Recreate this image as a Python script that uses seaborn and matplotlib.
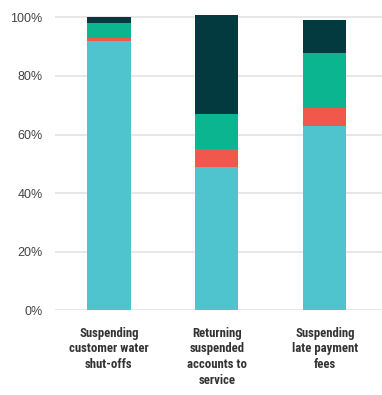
import numpy as np
import pandas as pd
import seaborn as sns
import matplotlib
matplotlib.use("Agg")
import matplotlib.pyplot as plt
from matplotlib import font_manager

categories = ["Suspending\ncustomer water\nshut-offs",
              "Returning\nsuspended\naccounts to\nservice",
              "Suspending\nlate payment\nfees"]
seg1 = [92, 49, 63]   # cyan
seg2 = [1, 6, 6]      # red
seg3 = [5, 12, 19]    # green
seg4 = [2, 34, 11]    # dark teal
colors = ["#4FC4CF", "#F0584C", "#0BB58F", "#033A40"]
yticks = [0, 20, 40, 60, 80, 100]

sns.set_style("white")
plt.rcParams['font.family'] = ['Liberation Sans', 'DejaVu Sans']

# find a condensed font if installed
narrow = None
stretch = "normal"
names = {f.name: f for f in font_manager.fontManager.ttflist}
for cand in ["Liberation Sans Narrow", "Arial Narrow", "Roboto Condensed",
             "Open Sans Condensed"]:
    if cand in names:
        narrow = cand
        break
if narrow is None:
    for f in font_manager.fontManager.ttflist:
        if f.name in ("DejaVu Sans", "Roboto", "Open Sans", "Noto Sans") and \
                str(f.stretch) in ("condensed", "semi-condensed", "75", "87.5"):
            narrow = f.name
            stretch = f.stretch
            break

fig = plt.figure(figsize=(3.82, 3.95), dpi=100)
ax = fig.add_axes([0.144, 0.215, 0.856, 0.763])

segs = [seg1, seg2, seg3, seg4]
cum = np.cumsum(np.array(segs), axis=0)
for i in range(len(segs) - 1, -1, -1):
    df = pd.DataFrame({"cat": categories, "val": cum[i]})
    sns.barplot(data=df, x="cat", y="val", color=colors[i], width=0.4,
                saturation=1, ax=ax, zorder=2, linewidth=0)

ax.set_ylim(0, 103)
ax.set_xlim(-0.5, 2.53)
ax.set_yticks(yticks)
ax.set_yticklabels([f"{t}%" for t in yticks], color="#444444", fontsize=9)
ax.yaxis.grid(True, color="#e3e3e3", linewidth=1.2, zorder=0)
ax.set_axisbelow(True)
for s in ax.spines.values():
    s.set_visible(False)
ax.tick_params(axis="both", length=0)
ax.tick_params(axis="y", pad=9)
ax.tick_params(axis="x", pad=12)
for lab in ax.get_xticklabels():
    if narrow is not None:
        lab.set_fontfamily([narrow, 'Liberation Sans'])
        lab.set_fontstretch(stretch)
        lab.set_fontsize(9.2)
        lab.set_linespacing(1.26)
    else:
        lab.set_fontsize(9)
        lab.set_linespacing(1.12)
    lab.set_fontweight("bold")
    lab.set_color("#333333")
    lab.set_verticalalignment("top")
ax.set_xlabel("")
ax.set_ylabel("")

fig.savefig("out.png", dpi=100)
